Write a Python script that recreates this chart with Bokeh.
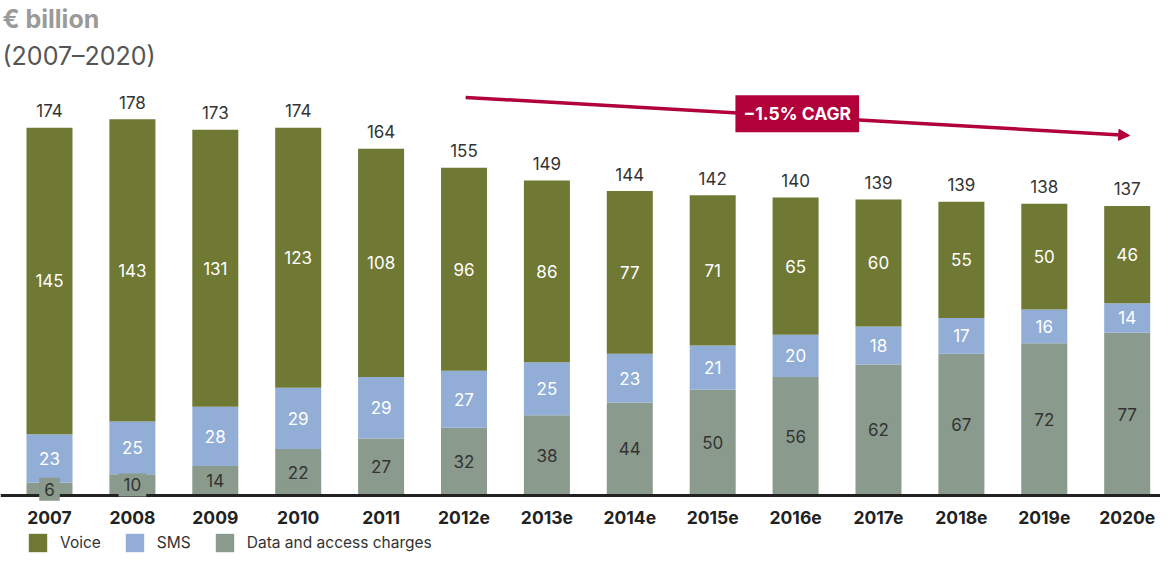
from bokeh.plotting import figure
from bokeh.models import ColumnDataSource, Range1d, Label, Arrow, NormalHead, Legend, LegendItem
from bokeh.core.properties import value
from bokeh.embed import file_html
from bokeh.resources import INLINE

# ---- data ----
years = ["2007", "2008", "2009", "2010", "2011", "2012e", "2013e",
         "2014e", "2015e", "2016e", "2017e", "2018e", "2019e", "2020e"]
voice = [145, 143, 131, 123, 108, 96, 86, 77, 71, 65, 60, 55, 50, 46]
sms = [23, 25, 28, 29, 29, 27, 25, 23, 21, 20, 18, 17, 16, 14]
data_access = [6, 10, 14, 22, 27, 32, 38, 44, 50, 56, 62, 67, 72, 77]
totals = [174, 178, 173, 174, 164, 155, 149, 144, 142, 140, 139, 139, 138, 137]
cagr_text = "\u22121.5% CAGR"

# ---- style ----
C_VOICE = "#6f7934"
C_SMS = "#92aed7"
C_DATA = "#8a9b8e"
C_CRIMSON = "#b1003a"
C_TEXT = "#333333"
FONT = "Inter"

W, H = 1160, 554
PX_X = 82.9           # px per category
PX_Y = 2.114          # px per € billion
BASE = 495            # baseline px from top of figure
x_lo = -49 / PX_X
x_hi = x_lo + W / PX_X
y_hi = BASE / PX_Y
y_lo = -(H - BASE) / PX_Y

xs = list(range(len(years)))
src = ColumnDataSource(dict(
    x=xs, year=years, voice=voice, sms=sms, data=data_access,
    total_lbl=[str(t) for t in totals],
    voice_lbl=[str(v) for v in voice],
    sms_lbl=[str(v) for v in sms],
    data_lbl=[str(v) for v in data_access],
    data_mid=[d / 2 for d in data_access],
    sms_mid=[d + s / 2 for d, s in zip(data_access, sms)],
    voice_mid=[d + s + v / 2 for d, s, v in zip(data_access, sms, voice)],
    top=[d + s + v + 17 / PX_Y for d, s, v in zip(data_access, sms, voice)],
    xlab_y=[-22 / PX_Y] * len(years),
))

p = figure(width=W, height=H, x_range=Range1d(x_lo, x_hi), y_range=Range1d(y_lo, y_hi),
           output_backend="svg", toolbar_location=None, min_border=0)
p.axis.visible = False
p.grid.visible = False
p.outline_line_color = None

r_data, r_sms, r_voice = p.vbar_stack(["data", "sms", "voice"], x="x", width=0.555,
                                      color=[C_DATA, C_SMS, C_VOICE], line_color=None, source=src)

p.hspan(y=[0], line_color="#222222", line_width=3)

common = dict(source=src, text_font=value(FONT), text_font_size="17px",
              text_align="center", text_baseline="middle")
p.text(x="x", y="voice_mid", text="voice_lbl", text_color="white", **common)
p.text(x="x", y="sms_mid", text="sms_lbl", text_color="white", **common)
p.text(x="x", y="data_mid", text="data_lbl", text_color=C_TEXT,
       background_fill_color=C_DATA, padding=5, **common)
p.text(x="x", y="top", text="total_lbl", text_color=C_TEXT, **common)
p.text(x="x", y="xlab_y", text="year", text_color="#222222", source=src,
       text_font=value(FONT), text_font_size="17.5px", text_font_style="bold",
       text_align="center", text_baseline="middle")

# CAGR arrow
p.add_layout(Arrow(end=NormalHead(size=11, fill_color=C_CRIMSON, line_color=C_CRIMSON),
                   x_start=5.02, y_start=188.3, x_end=13.03, y_end=170.3,
                   line_color=C_CRIMSON, line_width=3.5))
p.add_layout(Label(x=9.02, y=180.6, text=cagr_text, text_font=FONT, text_font_size="17.5px",
                   text_font_style="bold", text_color="white", text_align="center",
                   text_baseline="middle", background_fill_color=C_CRIMSON, padding=8))

# titles
p.add_layout(Label(x=2, y=H - 18, x_units="screen", y_units="screen", text="\u20ac billion",
                   text_font=FONT, text_font_size="25px", text_font_style="bold",
                   text_color="#9a9a9a", text_baseline="middle"))
p.add_layout(Label(x=2, y=H - 55, x_units="screen", y_units="screen", text="(2007\u20132020)",
                   text_font=FONT, text_font_size="25px", text_color="#555555",
                   text_baseline="middle"))

legend = Legend(items=[LegendItem(label="Voice", renderers=[r_voice]),
                       LegendItem(label="SMS", renderers=[r_sms]),
                       LegendItem(label="Data and access charges", renderers=[r_data])],
                orientation="horizontal", location=(26, 0), glyph_width=23, glyph_height=23,
                label_text_font=FONT, label_text_font_size="15.5px", label_text_color=C_TEXT,
                label_standoff=11, spacing=22, padding=0, margin=0,
                border_line_color=None, background_fill_alpha=0)
p.add_layout(legend)

open("out.html", "w").write(file_html(p, INLINE))
